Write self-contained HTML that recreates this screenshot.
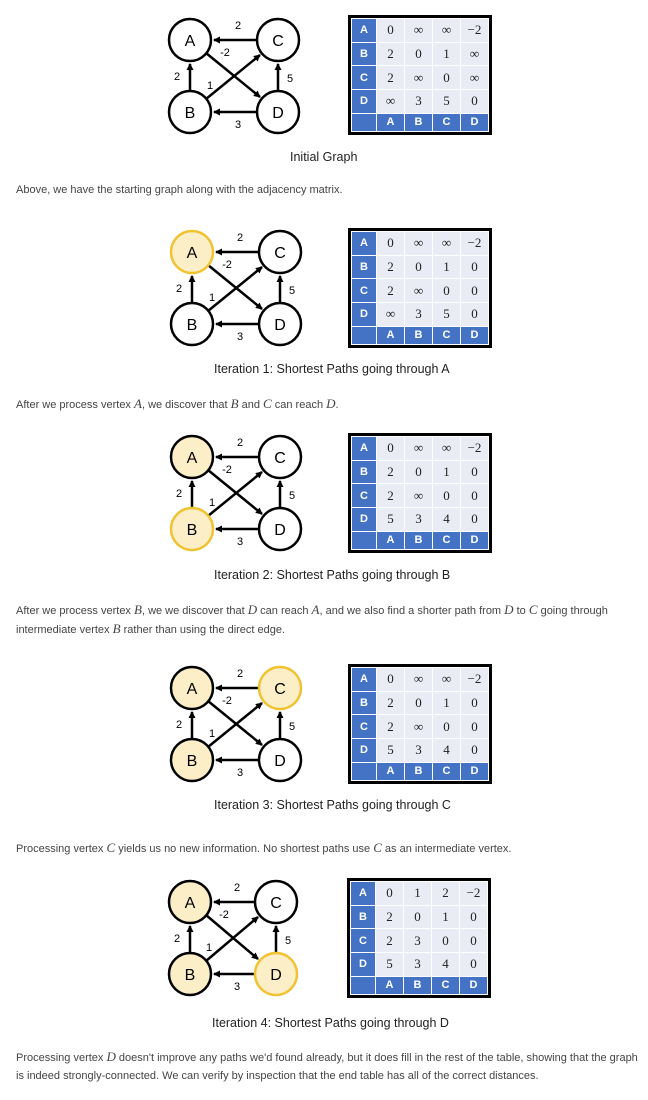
<!DOCTYPE html>
<html><head><meta charset="utf-8"><style>
body{margin:0;width:648px;height:1100px;background:#fff;position:relative;font-family:"Liberation Sans",sans-serif;overflow:hidden}
.g{position:absolute}
.t{position:absolute;width:144px;height:120px;border:3px solid #000;box-sizing:border-box;background:#000}
.t table{border-collapse:collapse;width:100%;height:100%;table-layout:fixed}
.t td{border:1px solid #fff;text-align:center;padding:0;font-family:"Liberation Serif",serif;font-size:13px;color:#222;background:#e9ebf5}
.t td.h{background:#4472c4;color:#fff;font-family:"Liberation Sans",sans-serif;font-weight:bold;font-size:11px}
.t col.f{width:25px}
.cap{position:absolute;font-size:12.5px;color:#222;font-family:"Liberation Sans",sans-serif}
.p{position:absolute;left:16px;width:628px;font-size:11px;color:#444;line-height:18px}
.p i{font-family:"Liberation Serif",serif;font-size:13px}
</style></head><body>
<svg width="0" height="0" style="position:absolute"><defs><marker id="ar" markerWidth="8" markerHeight="8" refX="6" refY="4" orient="auto" markerUnits="userSpaceOnUse"><path d="M0,0.5 L7,4 L0,7.5z" fill="#000"/></marker></defs></svg>

<!-- S1 -->
<svg class="g" style="left:165px;top:15px" width="150" height="125" font-family="Liberation Sans,sans-serif">
<g stroke="#000" stroke-width="2.5" marker-end="url(#ar)"><line x1="92" y1="25" x2="49" y2="25"/><line x1="25" y1="76" x2="25" y2="49"/><line x1="113" y1="76" x2="113" y2="49"/><line x1="92" y1="97" x2="49" y2="97"/><line x1="41" y1="38" x2="95" y2="82"/><line x1="41" y1="84" x2="95" y2="40"/></g>
<g stroke-width="2.5"><circle cx="25" cy="25" r="21" fill="#fff" stroke="#000"/><circle cx="113" cy="25" r="21" fill="#fff" stroke="#000"/><circle cx="25" cy="97" r="21" fill="#fff" stroke="#000"/><circle cx="113" cy="97" r="21" fill="#fff" stroke="#000"/></g>
<g font-size="16" text-anchor="middle"><text x="25" y="31">A</text><text x="113" y="31">C</text><text x="25" y="103">B</text><text x="113" y="103">D</text></g>
<g font-size="11" text-anchor="middle"><text x="73" y="14">2</text><text x="60" y="41">-2</text><text x="12" y="65">2</text><text x="45" y="74">1</text><text x="125" y="67">5</text><text x="73" y="113">3</text></g></svg>
<div class="t" style="left:348px;top:15px"><table><col class="f"><col><col><col><col>
<tr><td class="h">A</td><td>0</td><td>∞</td><td>∞</td><td>−2</td></tr>
<tr><td class="h">B</td><td>2</td><td>0</td><td>1</td><td>∞</td></tr>
<tr><td class="h">C</td><td>2</td><td>∞</td><td>0</td><td>∞</td></tr>
<tr><td class="h">D</td><td>∞</td><td>3</td><td>5</td><td>0</td></tr>
<tr><td class="h"></td><td class="h">A</td><td class="h">B</td><td class="h">C</td><td class="h">D</td></tr></table></div>
<div class="cap" style="left:290px;top:150px">Initial Graph</div>
<div class="p" style="top:181px">Above, we have the starting graph along with the adjacency matrix.</div>

<!-- S2 -->
<svg class="g" style="left:167px;top:227px" width="150" height="125" font-family="Liberation Sans,sans-serif">
<g stroke="#000" stroke-width="2.5" marker-end="url(#ar)"><line x1="92" y1="25" x2="49" y2="25"/><line x1="25" y1="76" x2="25" y2="49"/><line x1="113" y1="76" x2="113" y2="49"/><line x1="92" y1="97" x2="49" y2="97"/><line x1="41" y1="38" x2="95" y2="82"/><line x1="41" y1="84" x2="95" y2="40"/></g>
<g stroke-width="2.5"><circle cx="25" cy="25" r="21" fill="#fcefc7" stroke="#f1c232"/><circle cx="113" cy="25" r="21" fill="#fff" stroke="#000"/><circle cx="25" cy="97" r="21" fill="#fff" stroke="#000"/><circle cx="113" cy="97" r="21" fill="#fff" stroke="#000"/></g>
<g font-size="16" text-anchor="middle"><text x="25" y="31">A</text><text x="113" y="31">C</text><text x="25" y="103">B</text><text x="113" y="103">D</text></g>
<g font-size="11" text-anchor="middle"><text x="73" y="14">2</text><text x="60" y="41">-2</text><text x="12" y="65">2</text><text x="45" y="74">1</text><text x="125" y="67">5</text><text x="73" y="113">3</text></g></svg>
<div class="t" style="left:348px;top:228px"><table><col class="f"><col><col><col><col>
<tr><td class="h">A</td><td>0</td><td>∞</td><td>∞</td><td>−2</td></tr>
<tr><td class="h">B</td><td>2</td><td>0</td><td>1</td><td>0</td></tr>
<tr><td class="h">C</td><td>2</td><td>∞</td><td>0</td><td>0</td></tr>
<tr><td class="h">D</td><td>∞</td><td>3</td><td>5</td><td>0</td></tr>
<tr><td class="h"></td><td class="h">A</td><td class="h">B</td><td class="h">C</td><td class="h">D</td></tr></table></div>
<div class="cap" style="left:214px;top:362px">Iteration 1: Shortest Paths going through A</div>
<div class="p" style="top:395px">After we process vertex <i>A</i>, we discover that <i>B</i> and <i>C</i> can reach <i>D</i>.</div>

<!-- S3 -->
<svg class="g" style="left:167px;top:432px" width="150" height="125" font-family="Liberation Sans,sans-serif">
<g stroke="#000" stroke-width="2.5" marker-end="url(#ar)"><line x1="92" y1="25" x2="49" y2="25"/><line x1="25" y1="76" x2="25" y2="49"/><line x1="113" y1="76" x2="113" y2="49"/><line x1="92" y1="97" x2="49" y2="97"/><line x1="41" y1="38" x2="95" y2="82"/><line x1="41" y1="84" x2="95" y2="40"/></g>
<g stroke-width="2.5"><circle cx="25" cy="25" r="21" fill="#fcefc7" stroke="#000"/><circle cx="113" cy="25" r="21" fill="#fff" stroke="#000"/><circle cx="25" cy="97" r="21" fill="#fcefc7" stroke="#f1c232"/><circle cx="113" cy="97" r="21" fill="#fff" stroke="#000"/></g>
<g font-size="16" text-anchor="middle"><text x="25" y="31">A</text><text x="113" y="31">C</text><text x="25" y="103">B</text><text x="113" y="103">D</text></g>
<g font-size="11" text-anchor="middle"><text x="73" y="14">2</text><text x="60" y="41">-2</text><text x="12" y="65">2</text><text x="45" y="74">1</text><text x="125" y="67">5</text><text x="73" y="113">3</text></g></svg>
<div class="t" style="left:348px;top:433px"><table><col class="f"><col><col><col><col>
<tr><td class="h">A</td><td>0</td><td>∞</td><td>∞</td><td>−2</td></tr>
<tr><td class="h">B</td><td>2</td><td>0</td><td>1</td><td>0</td></tr>
<tr><td class="h">C</td><td>2</td><td>∞</td><td>0</td><td>0</td></tr>
<tr><td class="h">D</td><td>5</td><td>3</td><td>4</td><td>0</td></tr>
<tr><td class="h"></td><td class="h">A</td><td class="h">B</td><td class="h">C</td><td class="h">D</td></tr></table></div>
<div class="cap" style="left:214px;top:568px">Iteration 2: Shortest Paths going through B</div>
<div class="p" style="top:601px">After we process vertex <i>B</i>, we we discover that <i>D</i> can reach <i>A</i>, and we also find a shorter path from <i>D</i> to <i>C</i> going through intermediate vertex <i>B</i> rather than using the direct edge.</div>

<!-- S4 -->
<svg class="g" style="left:167px;top:663px" width="150" height="125" font-family="Liberation Sans,sans-serif">
<g stroke="#000" stroke-width="2.5" marker-end="url(#ar)"><line x1="92" y1="25" x2="49" y2="25"/><line x1="25" y1="76" x2="25" y2="49"/><line x1="113" y1="76" x2="113" y2="49"/><line x1="92" y1="97" x2="49" y2="97"/><line x1="41" y1="38" x2="95" y2="82"/><line x1="41" y1="84" x2="95" y2="40"/></g>
<g stroke-width="2.5"><circle cx="25" cy="25" r="21" fill="#fcefc7" stroke="#000"/><circle cx="113" cy="25" r="21" fill="#fcefc7" stroke="#f1c232"/><circle cx="25" cy="97" r="21" fill="#fcefc7" stroke="#000"/><circle cx="113" cy="97" r="21" fill="#fff" stroke="#000"/></g>
<g font-size="16" text-anchor="middle"><text x="25" y="31">A</text><text x="113" y="31">C</text><text x="25" y="103">B</text><text x="113" y="103">D</text></g>
<g font-size="11" text-anchor="middle"><text x="73" y="14">2</text><text x="60" y="41">-2</text><text x="12" y="65">2</text><text x="45" y="74">1</text><text x="125" y="67">5</text><text x="73" y="113">3</text></g></svg>
<div class="t" style="left:348px;top:664px"><table><col class="f"><col><col><col><col>
<tr><td class="h">A</td><td>0</td><td>∞</td><td>∞</td><td>−2</td></tr>
<tr><td class="h">B</td><td>2</td><td>0</td><td>1</td><td>0</td></tr>
<tr><td class="h">C</td><td>2</td><td>∞</td><td>0</td><td>0</td></tr>
<tr><td class="h">D</td><td>5</td><td>3</td><td>4</td><td>0</td></tr>
<tr><td class="h"></td><td class="h">A</td><td class="h">B</td><td class="h">C</td><td class="h">D</td></tr></table></div>
<div class="cap" style="left:214px;top:798px">Iteration 3: Shortest Paths going through C</div>
<div class="p" style="top:839px">Processing vertex <i>C</i> yields us no new information. No shortest paths use <i>C</i> as an intermediate vertex.</div>

<!-- S5 -->
<svg class="g" style="left:165px;top:877px" width="150" height="125" font-family="Liberation Sans,sans-serif">
<g stroke="#000" stroke-width="2.5" marker-end="url(#ar)"><line x1="90" y1="25" x2="49" y2="25"/><line x1="25" y1="76" x2="25" y2="49"/><line x1="111" y1="76" x2="111" y2="49"/><line x1="90" y1="97" x2="49" y2="97"/><line x1="41" y1="38" x2="93" y2="82"/><line x1="41" y1="84" x2="93" y2="40"/></g>
<g stroke-width="2.5"><circle cx="25" cy="25" r="21" fill="#fcefc7" stroke="#000"/><circle cx="111" cy="25" r="21" fill="#fff" stroke="#000"/><circle cx="25" cy="97" r="21" fill="#fcefc7" stroke="#000"/><circle cx="111" cy="97" r="21" fill="#fcefc7" stroke="#f1c232"/></g>
<g font-size="16" text-anchor="middle"><text x="25" y="31">A</text><text x="111" y="31">C</text><text x="25" y="103">B</text><text x="111" y="103">D</text></g>
<g font-size="11" text-anchor="middle"><text x="72" y="14">2</text><text x="59" y="41">-2</text><text x="12" y="65">2</text><text x="44" y="74">1</text><text x="123" y="67">5</text><text x="72" y="113">3</text></g></svg>
<div class="t" style="left:347px;top:878px"><table><col class="f"><col><col><col><col>
<tr><td class="h">A</td><td>0</td><td>1</td><td>2</td><td>−2</td></tr>
<tr><td class="h">B</td><td>2</td><td>0</td><td>1</td><td>0</td></tr>
<tr><td class="h">C</td><td>2</td><td>3</td><td>0</td><td>0</td></tr>
<tr><td class="h">D</td><td>5</td><td>3</td><td>4</td><td>0</td></tr>
<tr><td class="h"></td><td class="h">A</td><td class="h">B</td><td class="h">C</td><td class="h">D</td></tr></table></div>
<div class="cap" style="left:212px;top:1016px">Iteration 4: Shortest Paths going through D</div>
<div class="p" style="top:1048px">Processing vertex <i>D</i> doesn't improve any paths we'd found already, but it does fill in the rest of the table, showing that the graph is indeed strongly-connected. We can verify by inspection that the end table has all of the correct distances.</div>
</body></html>
